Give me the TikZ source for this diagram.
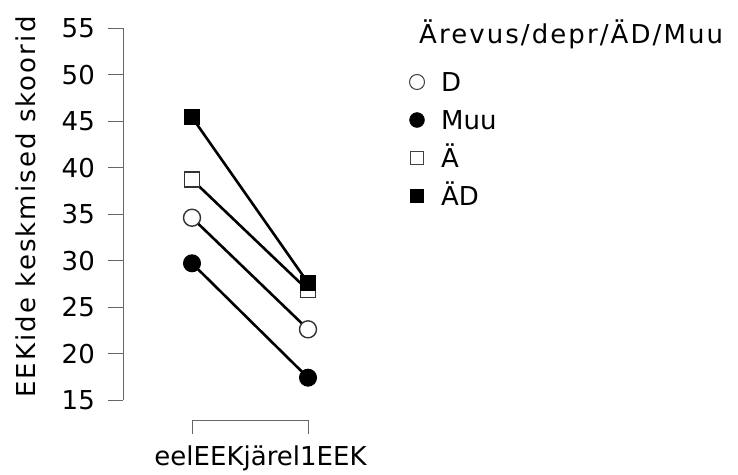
\documentclass[tikz,border=0pt]{standalone}
\usepackage{fontspec}
\setmainfont{DejaVu Sans}
\begin{document}
\begin{tikzpicture}[x=1pt,y=-1pt,
  axisline/.style={draw=black!60,line width=1pt},
  series/.style={line width=2.6pt,black},
  fcirc/.style={circle,fill=black,draw=black,line width=1pt,minimum size=17pt,inner sep=0pt},
  ocirc/.style={circle,fill=white,draw=black!80,line width=1.4pt,minimum size=17pt,inner sep=0pt},
  fsq/.style={rectangle,fill=black,draw=black,line width=1pt,minimum size=15pt,inner sep=0pt},
  osq/.style={rectangle,fill=white,draw=black!80,line width=1.4pt,minimum size=15pt,inner sep=0pt},
  lfcirc/.style={circle,fill=black,draw=black,minimum size=15pt,inner sep=0pt},
  locirc/.style={circle,fill=white,draw=black!75,line width=1pt,minimum size=15pt,inner sep=0pt},
  lfsq/.style={rectangle,fill=black,draw=black,minimum size=13pt,inner sep=0pt},
  losq/.style={rectangle,fill=white,draw=black!75,line width=1pt,minimum size=13pt,inner sep=0pt},
  lbl/.style={font=\fontsize{26}{30}\selectfont,inner sep=0pt},
  wlbl/.style={font=\fontsize{26}{30}\selectfont\addfontfeature{LetterSpace=8},inner sep=0pt}
]
\useasboundingbox (0,0) rectangle (738,474);
% y axis
\draw[axisline] (123,28) -- (123,400);
\foreach \v in {15,20,...,55}{
  \pgfmathsetmacro{\yy}{400-(\v-15)*9.3}
  \draw[axisline] (108,\yy) -- (123,\yy);
  \node[lbl,anchor=base east] at (95,\yy+9.5) {\v};
}
\node[wlbl,rotate=90,anchor=base] (ylab) at (35,207) {EEKide keskmised skoorid};
% x axis
\draw[axisline] (192,434) -- (192,420) -- (308,420) -- (308,434);
\node[lbl,anchor=base] (xlab) at (260.5,465) {eelEEKjärel1EEK};
% data
\pgfmathsetmacro{\sc}{9.3}
\coordinate (ADa) at (192,{400-(45.4-15)*\sc});
\coordinate (ADb) at (308,{400-(27.6-15)*\sc});
\coordinate (Aa) at (192,{400-(38.7-15)*\sc});
\coordinate (Ab) at (308,{400-(26.8-15)*\sc});
\coordinate (Da) at (192,{400-(34.6-15)*\sc});
\coordinate (Db) at (308,{400-(22.6-15)*\sc});
\coordinate (Ma) at (192,{400-(29.7-15)*\sc});
\coordinate (Mb) at (308,{400-(17.4-15)*\sc});
\draw[series] (ADa) -- (ADb);
\draw[series] (Aa) -- (Ab);
\draw[series] (Da) -- (Db);
\draw[series] (Ma) -- (Mb);
\node[osq] (pAb) at (Ab) {};
\node[fsq] (pADb) at (ADb) {};
\node[osq] (pAa) at (Aa) {};
\node[fsq] (pADa) at (ADa) {};
\node[ocirc] (pDa) at (Da) {};
\node[ocirc] (pDb) at (Db) {};
\node[fcirc] (pMa) at (Ma) {};
\node[fcirc] (pMb) at (Mb) {};
% legend
\node[wlbl,anchor=base west] (ltitle) at (419,43) {Ärevus/depr/ÄD/Muu};
\node[locirc] (l1) at (417,82) {};
\node[lbl,anchor=base west] (t1) at (441,91) {D};
\node[lfcirc] (l2) at (417,120) {};
\node[lbl,anchor=base west] (t2) at (441,129) {Muu};
\node[losq] (l3) at (417,158) {};
\node[lbl,anchor=base west] (t3) at (441,167) {Ä};
\node[lfsq] (l4) at (417,196) {};
\node[lbl,anchor=base west] (t4) at (441,205) {ÄD};
\end{tikzpicture}
\end{document}
